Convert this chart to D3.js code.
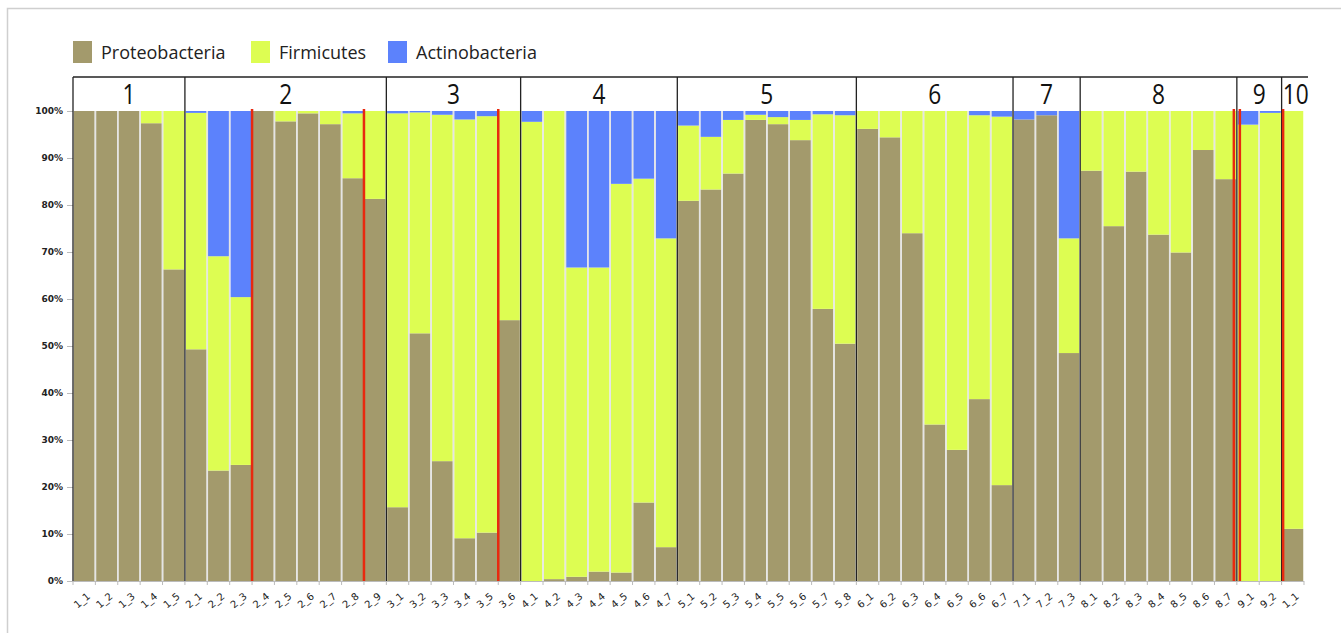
<!DOCTYPE html>
<html>
<head>
<meta charset="utf-8">
<script src="https://cdn.jsdelivr.net/npm/d3@7"></script>
<style>
  body { margin: 0; background: #fff; }
  svg { display: block; }
  .ytick text { font-family: "DejaVu Sans", sans-serif; font-size: 9px; font-weight: bold; fill: #222; }
  .xlab text { font-family: "DejaVu Sans", sans-serif; font-size: 10px; fill: #222; }
</style>
</head>
<body>
<div id="chart"></div>
<script>
// data (percentages per sample)
const labels = ["1_1","1_2","1_3","1_4","1_5",
  "2_1","2_2","2_3","2_4","2_5","2_6","2_7","2_8","2_9",
  "3_1","3_2","3_3","3_4","3_5","3_6",
  "4_1","4_2","4_3","4_4","4_5","4_6","4_7",
  "5_1","5_2","5_3","5_4","5_5","5_6","5_7","5_8",
  "6_1","6_2","6_3","6_4","6_5","6_6","6_7",
  "7_1","7_2","7_3",
  "8_1","8_2","8_3","8_4","8_5","8_6","8_7",
  "9_1","9_2",
  "1_1"]

const proteo = [100,100,100,97.4,66.3,
  49.3,23.5,24.7,100,97.8,99.5,97.2,85.7,81.3,
  15.7,52.7,25.5,9.1,10.3,55.5,
  0,0.4,0.9,2.0,1.8,16.7,7.2,
  80.9,83.3,86.7,98.1,97.2,93.8,57.9,50.5,
  96.2,94.4,74.0,33.3,27.9,38.7,20.4,
  98.2,99.1,48.5,
  87.3,75.5,87.1,73.7,69.9,91.7,85.5,
  0,0,
  11.1]

const firmi = [0,0,0,2.6,33.7,
  50.3,45.6,35.7,0,2.2,0.5,2.8,13.8,18.7,
  83.8,47.0,73.7,89.1,88.6,44.5,
  97.7,99.6,65.8,64.7,82.7,68.9,65.7,
  16.0,11.2,11.4,1.1,1.5,4.3,41.4,48.6,
  3.8,5.6,26.0,66.7,72.1,60.4,78.4,
  0,0,24.4,
  12.7,24.5,12.9,26.3,30.1,8.3,14.5,
  97.1,99.6,
  88.9]

const actino = [0,0,0,0,0,
  0.4,30.9,39.6,0,0,0,0,0.5,0,
  0.5,0.3,0.8,1.8,1.1,0,
  2.3,0,33.3,33.3,15.5,14.4,27.1,
  3.1,5.5,1.9,0.8,1.3,1.9,0.7,0.9,
  0,0,0,0,0,0.9,1.2,
  1.8,0.9,27.1,
  0,0,0,0,0,0,0,
  2.9,0.4,
  0]

const seriesNames = ["Proteobacteria", "Firmicutes", "Actinobacteria"]
const seriesColors = ["#a39a6c", "#ddfd52", "#5c82fc"]

// groups in the header and how many samples each has
const groupNames = ["1","2","3","4","5","6","7","8","9","10"]
const groupSizes = [5,9,6,7,8,7,3,7,2,1]

// red marker lines: drawn after these sample positions (index of the bar before)
const redAfter = [7, 12, 18, 51, 53]

const yTicks = [0,10,20,30,40,50,60,70,80,90,100]

const width = 1341
const height = 633
const plot = {left: 73, right: 1304, top: 111, bottom: 581}
const headerTop = 77

var svg = d3.select("#chart").append("svg")
    .attr("width", width)
    .attr("height", height)

// lichte rand om het geheel
svg.append("path")
    .attr("d", "M7.5," + height + "V8.5H" + width)
    .attr("fill", "none")
    .attr("stroke", "#cfcfcf")
    .attr("stroke-width", 1.5)

// build rows for the stack
var ids = labels.map(function(d, i) { return i; })
var rows = ids.map(function(i) {
  return {id: i, Proteobacteria: proteo[i], Firmicutes: firmi[i], Actinobacteria: actino[i]}
})

var xScale = d3.scaleBand()
    .domain(ids)
    .range([plot.left, plot.right])
    .padding(0)

var yScale = d3.scaleLinear()
    .domain([0, 100])
    .range([plot.bottom, plot.top])

var color = d3.scaleOrdinal().domain(seriesNames).range(seriesColors)

var stacked = d3.stack().keys(seriesNames)(rows)

// bars
svg.append("g")
    .attr("class", "bars")
  .selectAll("g")
    .data(stacked)
    .enter()
    .append("g")
    .attr("fill", function(d) { return color(d.key); })
  .selectAll("rect")
    .data(function(d) { return d; })
    .enter()
    .append("rect")
    .attr("x", function(d) { return xScale(d.data.id) + 0.75; })
    .attr("width", xScale.bandwidth() - 1.5)
    .attr("y", function(d) { return yScale(d[1]); })
    .attr("height", function(d) { return yScale(d[0]) - yScale(d[1]); })

// gap lines between bars
svg.append("g")
  .selectAll("line")
    .data(ids.slice(1))
    .enter()
    .append("line")
    .attr("x1", function(d) { return xScale(d); })
    .attr("x2", function(d) { return xScale(d); })
    .attr("y1", plot.top)
    .attr("y2", plot.bottom)
    .attr("stroke", "#e4e4e4")
    .attr("stroke-width", 1.5)

// x axis line + ticks at bar boundaries
svg.append("line")
    .attr("x1", plot.left).attr("x2", plot.right)
    .attr("y1", plot.bottom + 0.5).attr("y2", plot.bottom + 0.5)
    .attr("stroke", "#bbb")

svg.append("g")
  .selectAll("line")
    .data(ids.concat([ids.length]))
    .enter()
    .append("line")
    .attr("x1", function(d) { return d < ids.length ? xScale(d) : plot.right; })
    .attr("x2", function(d) { return d < ids.length ? xScale(d) : plot.right; })
    .attr("y1", plot.bottom)
    .attr("y2", plot.bottom + 4)
    .attr("stroke", "#bbb")

// x labels, schuin gedraaid
svg.append("g")
    .attr("class", "xlab")
  .selectAll("text")
    .data(ids)
    .enter()
    .append("text")
    .attr("transform", function(d) {
      return "translate(" + (xScale(d) + xScale.bandwidth() / 2) + "," + (plot.bottom + 22) + ") rotate(-40)"
    })
    .attr("text-anchor", "middle")
    .text(function(d) { return labels[d]; })

// y axis
var yAxis = svg.append("g")
    .attr("class", "ytick")
    .attr("transform", "translate(" + plot.left + ",0)")
    .call(d3.axisLeft(yScale).tickValues(yTicks).tickFormat(function(d) { return d + "%"; }).tickSize(6).tickPadding(4))
yAxis.select(".domain").remove()
yAxis.selectAll("line").attr("stroke", "#bbb")

// header band with group numbers
var groupStart = []
var acc = 0
groupSizes.forEach(function(n) { groupStart.push(acc); acc += n; })

svg.append("line")
    .attr("x1", plot.left).attr("x2", plot.right + 4)
    .attr("y1", headerTop).attr("y2", headerTop)
    .attr("stroke", "#222").attr("stroke-width", 1.3)

svg.append("g")
  .selectAll("line")
    .data(groupStart)
    .enter()
    .append("line")
    .attr("x1", function(d) { return xScale(d); })
    .attr("x2", function(d) { return xScale(d); })
    .attr("y1", headerTop)
    .attr("y2", plot.bottom)
    .attr("stroke", "#222")
    .attr("stroke-width", 1.3)

svg.append("g")
  .selectAll("text")
    .data(groupNames)
    .enter()
    .append("text")
    .attr("x", function(d, i) {
      var last = groupStart[i] + groupSizes[i] - 1
      return (xScale(groupStart[i]) + xScale(last) + xScale.bandwidth()) / 2 + (i == 9 ? 3 : 0)
    })
    .attr("y", 104)
    .attr("text-anchor", "middle")
    .style("font-family", "'Open Sans', sans-serif")
    .style("font-size", "27px")
    .attr("textLength", function(d) { return d.length * 13; })
    .attr("lengthAdjust", "spacingAndGlyphs")
    .attr("fill", "#111")
    .text(function(d) { return d; })

// red markers
svg.append("g")
  .selectAll("line")
    .data(redAfter)
    .enter()
    .append("line")
    .attr("x1", function(d) { return xScale(d) + xScale.bandwidth(); })
    .attr("x2", function(d) { return xScale(d) + xScale.bandwidth(); })
    .attr("y1", plot.top - 2)
    .attr("y2", plot.bottom)
    .attr("stroke", "#e8290f")
    .attr("stroke-width", 2.5)
    .attr("transform", function(d, i) { return d == 51 ? "translate(-3,0)" : (d == 53 ? "translate(1.5,0)" : null); })

// tweede rode lijn bij 8|9
svg.append("line")
    .attr("x1", xScale(52) + 3).attr("x2", xScale(52) + 3)
    .attr("y1", plot.top - 2).attr("y2", plot.bottom)
    .attr("stroke", "#e8290f")
    .attr("stroke-width", 2.5)

// legend
var legend = svg.append("g")
  .selectAll("g")
    .data(seriesNames)
    .enter()
    .append("g")
    .attr("transform", function(d, i) { return "translate(" + [73, 251, 388][i] + ",41)"; })

legend.append("rect")
    .attr("width", 19)
    .attr("height", 22)
    .attr("fill", function(d) { return color(d); })

legend.append("text")
    .attr("x", 28)
    .attr("y", 18)
    .style("font-family", "'Open Sans', sans-serif")
    .style("font-size", "18px")
    .attr("fill", "#222")
    .text(function(d) { return d; })
</script>
</body>
</html>
